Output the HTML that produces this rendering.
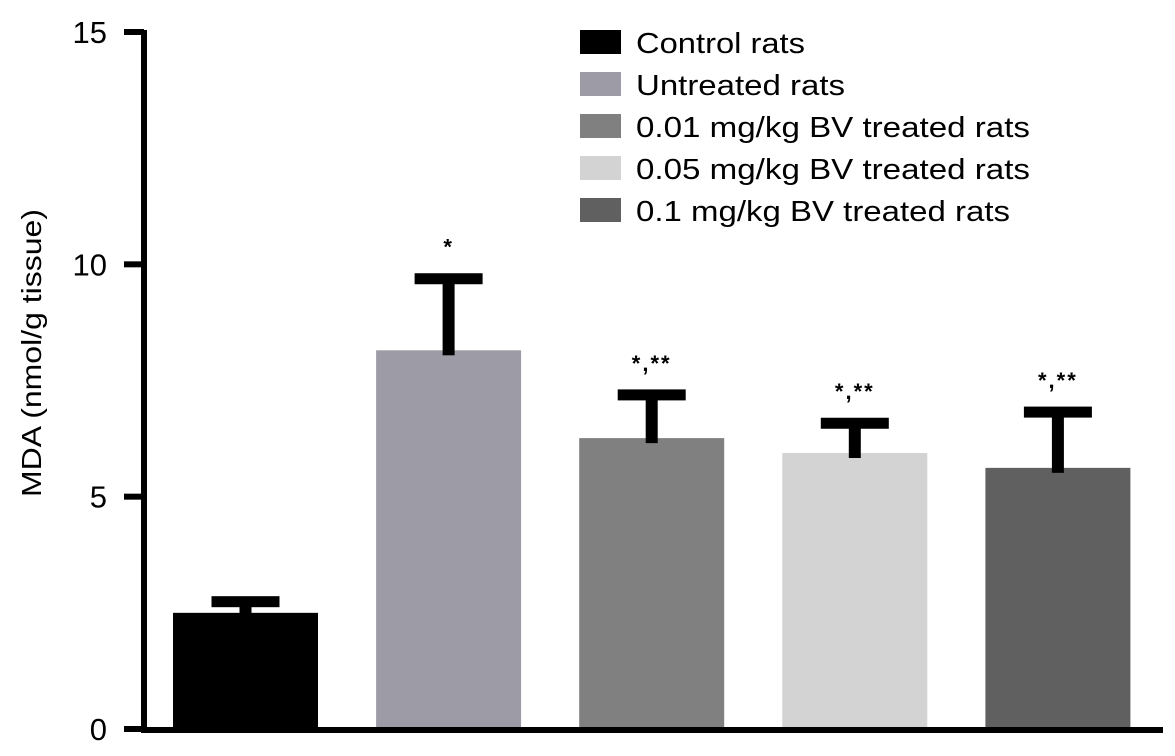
<!DOCTYPE html>
<html><head><meta charset="utf-8"><style>
html,body{margin:0;padding:0;background:#fff;}
svg{display:block;font-family:"Liberation Sans",Arial,sans-serif;}
</style></head><body>
<svg id="chart" width="1175" height="756" viewBox="0 0 1175 756">
<g id="bars"></g>
<g id="axes"></g>
<g id="legend"></g>
<text transform="translate(41,353) rotate(-90)" text-anchor="middle" font-size="28" fill="#000" textLength="288" lengthAdjust="spacingAndGlyphs">MDA (nmol/g tissue)</text>
</svg>
<script>
const categories = ["Control rats","Untreated rats","0.01 mg/kg BV treated rats","0.05 mg/kg BV treated rats","0.1 mg/kg BV treated rats"];
const means = [2.5, 8.15, 6.26, 5.94, 5.62];
const errTops = [2.74, 9.69, 7.19, 6.58, 6.82];
const sigLabels = ["", "*", "*,**", "*,**", "*,**"];
const yTicks = [0, 5, 10, 15];
const colors = ["#000000","#9d9ca6","#808080","#d3d3d3","#606060"];

const NS = "http://www.w3.org/2000/svg";
const y = v => 729 - v * (697 / 15);
const x = i => 173 + i * 203.1;
const barW = 145;
function mk(tag, attrs, parent, text){
  const e = document.createElementNS(NS, tag);
  for (const k in attrs) e.setAttribute(k, attrs[k]);
  if (text !== undefined) e.textContent = text;
  parent.appendChild(e); return e;
}
const bars = document.getElementById('bars');
categories.forEach((c, i) => {
  const cx = x(i) + barW / 2;
  const r = mk('rect', {x: x(i), y: y(means[i]), width: barW, height: y(0) - y(means[i]), fill: colors[i]}, bars);
  
  
  const st = mk('rect', {x: cx - 6, y: y(errTops[i]), width: 12, height: y(means[i]) - y(errTops[i]) + 5, fill: '#000'}, bars);
  
  
  const cap = mk('rect', {x: cx - 34, y: y(errTops[i]) - 5.5, width: 68, height: 11, fill: '#000'}, bars);
  
  
  if (sigLabels[i]) {
    const t = mk('text', {x: cx, y: y(errTops[i]) - 24, 'text-anchor': 'middle', 'font-size': 22, 'font-weight': 'bold', 'letter-spacing': 2, fill: '#000'}, bars, sigLabels[i]);
    
    
  }
});
const axes = document.getElementById('axes');
const ya = mk('rect', {x: 141, y: 30, width: 6, height: 703, fill: '#000'}, axes);


const xa = mk('rect', {x: 141, y: 727, width: 1022, height: 6, fill: '#000'}, axes);


yTicks.forEach(v => {
  const tk = mk('rect', {x: 124, y: y(v) - 3, width: 20, height: 6, fill: '#000'}, axes);
  
  
  const tl = mk('text', {x: 107, y: y(v) + 11, 'text-anchor': 'end', 'font-size': 31, fill: '#000'}, axes, String(v));
  
  
});
const legend = document.getElementById('legend');
const legW = [169, 209, 394, 394, 374];
categories.forEach((c, i) => {
  const cy = 42 + i * 42;
  const sw = mk('rect', {x: 580, y: cy - 12, width: 41, height: 24, fill: colors[i]}, legend);
  
  
  const lt = mk('text', {x: 636, y: cy + 11, 'font-size': 29, fill: '#000', textLength: legW[i], lengthAdjust: 'spacingAndGlyphs'}, legend, c);
  
  
});
</script>
</body></html>
